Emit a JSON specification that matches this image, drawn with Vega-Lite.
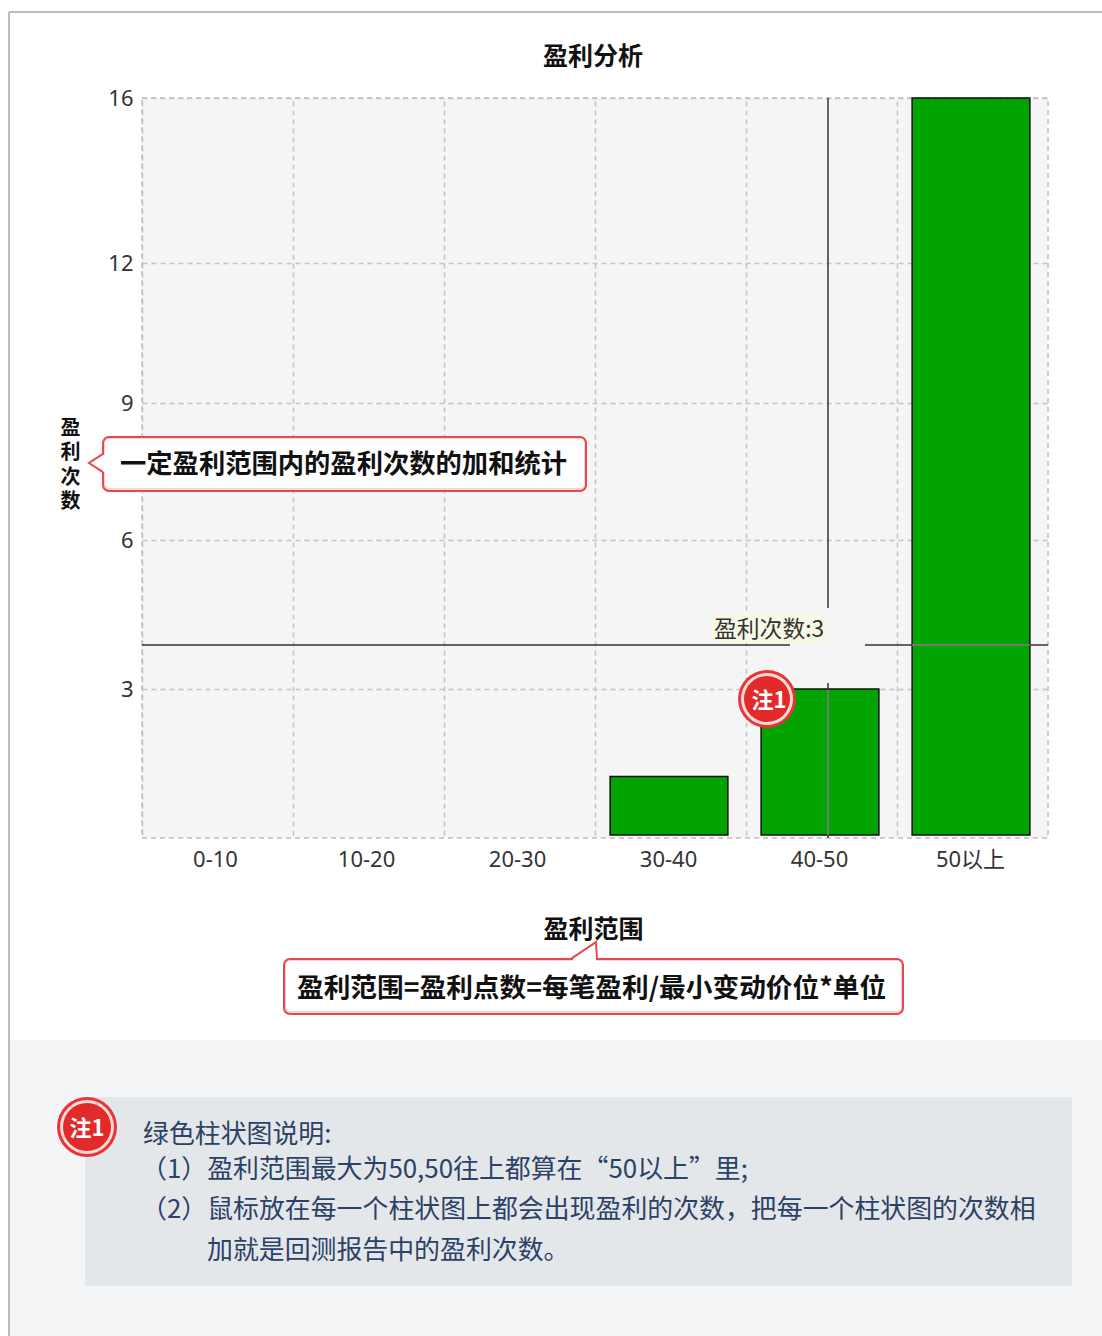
{
"$schema":"https://vega.github.io/schema/vega-lite/v6.json",
"width":906,"height":740,
"autosize":{"type":"none"},
"padding":{"left":142,"top":98,"right":54,"bottom":498},
"background":"#ffffff",
"view":{"fill":"#f5f5f5","stroke":"#bdbdbd","strokeDash":[5,4],"strokeWidth":1.5},
"config":{"font":"Noto Sans CJK SC"},
"title":{"text":"盈利分析","fontSize":25,"fontWeight":"bold","font":"Noto Sans CJK SC","color":"#111111","anchor":"middle","offset":-59,"dx":-2},
"resolve":{"scale":{"x":"independent","y":"independent"}},
"layer":[
{
"data":{"values":[{"range":"30-40","count":1.2},{"range":"40-50","count":3},{"range":"50以上","count":16}]},
"mark":{"type":"bar","width":{"band":0.78},"xOffset":-1.5,"fill":"#00a300","stroke":"#111111","strokeWidth":1.5},
"encoding":{
"x":{"field":"range","type":"nominal","sort":null,
"scale":{"domain":["0-10","10-20","20-30","30-40","40-50","50以上"],"paddingInner":0,"paddingOuter":0},
"axis":{"title":"盈利范围","titleFontSize":25,"titleFontWeight":"bold","titleFont":"Noto Sans CJK SC","titleColor":"#111111","titlePadding":47,"titleX":451,"labelAngle":0,"labelFont":"Noto Sans, Noto Sans CJK SC","labelFontSize":22,"labelColor":"#333333","labelPadding":11,"labelOffset":-2,"ticks":false,"domain":false,"grid":true,"bandPosition":0,"gridColor":"#c4c4c4","gridDash":[5,4],"gridWidth":1.5}},
"y":{"field":"count","type":"quantitative",
"scale":{"domain":[0,3,6,9,12,16],"range":[737,591,442,305,165,0],"nice":false,"zero":false},
"axis":{"title":["盈","利","次","数"],"titleFontSize":20,"titleFontWeight":"bold","titleFont":"Noto Sans CJK SC","titleColor":"#111111","titleAngle":0,"titleLineHeight":24.5,"titleX":-72,"titleY":320,"titleAlign":"center","titleBaseline":"top","values":[3,6,9,12,16],"labelFont":"Noto Sans, Noto Sans CJK SC","labelFontSize":22,"labelColor":"#333333","labelPadding":9,"ticks":false,"domain":false,"grid":true,"gridColor":"#c4c4c4","gridDash":[5,4],"gridWidth":1.5}}
}
},
{
"data":{"values":[{}]},
"layer":[
{"mark":{"type":"rect","fill":"#f3f5f7"},"encoding":{"x":{"datum":10,"type":"quantitative","scale":{"domain":[142,1048],"range":[0,906],"nice":false,"zero":false},"axis":null},"x2":{"datum":1102},"y":{"datum":1040,"type":"quantitative","scale":{"domain":[98,838],"range":[0,740],"nice":false,"zero":false},"axis":null},"y2":{"datum":1336}}},
{"mark":{"type":"rect","fill":"#e4e7ea"},"encoding":{"x":{"datum":85,"type":"quantitative","axis":null},"x2":{"datum":1072},"y":{"datum":1097,"type":"quantitative","axis":null},"y2":{"datum":1286}}},
{"mark":{"type":"rule","stroke":"#bcbcbc","strokeWidth":2},"encoding":{"x":{"datum":9,"type":"quantitative","axis":null},"y":{"datum":12,"type":"quantitative","axis":null},"y2":{"datum":1336}}},
{"mark":{"type":"rule","stroke":"#bcbcbc","strokeWidth":2},"encoding":{"x":{"datum":9,"type":"quantitative","axis":null},"x2":{"datum":1102},"y":{"datum":12,"type":"quantitative","axis":null}}},

{"mark":{"type":"rect","fill":"#f8f8e6"},"encoding":{"x":{"datum":712,"type":"quantitative","axis":null},"x2":{"datum":826},"y":{"datum":614,"type":"quantitative","axis":null},"y2":{"datum":643}}},
{"mark":{"type":"text","fontSize":22.8,"fill":"#333333","align":"left","baseline":"middle","font":"Noto Sans CJK SC"},"encoding":{"x":{"datum":714,"type":"quantitative","axis":null},"y":{"datum":630,"type":"quantitative","axis":null},"text":{"value":"盈利次数:3"}}},

{"mark":{"type":"rule","stroke":"#333333","strokeWidth":1.5},"encoding":{"x":{"datum":142,"type":"quantitative","axis":null},"x2":{"datum":790},"y":{"datum":645,"type":"quantitative","axis":null}}},
{"mark":{"type":"rule","stroke":"#333333","strokeWidth":1.5},"encoding":{"x":{"datum":865,"type":"quantitative","axis":null},"x2":{"datum":1048},"y":{"datum":645,"type":"quantitative","axis":null}}},
{"mark":{"type":"rule","stroke":"#8a8a8a","strokeWidth":1.5},"encoding":{"x":{"datum":912,"type":"quantitative","axis":null},"x2":{"datum":1030},"y":{"datum":645,"type":"quantitative","axis":null}}},
{"mark":{"type":"rule","stroke":"#333333","strokeWidth":1.5},"encoding":{"x":{"datum":828,"type":"quantitative","axis":null},"y":{"datum":98,"type":"quantitative","axis":null},"y2":{"datum":608}}},
{"mark":{"type":"rule","stroke":"#333333","strokeWidth":1.5},"encoding":{"x":{"datum":828,"type":"quantitative","axis":null},"y":{"datum":683,"type":"quantitative","axis":null},"y2":{"datum":838}}},
{"mark":{"type":"rule","stroke":"#8a8a8a","strokeWidth":1.5},"encoding":{"x":{"datum":828,"type":"quantitative","axis":null},"y":{"datum":690,"type":"quantitative","axis":null},"y2":{"datum":835}}},

{"mark":{"type":"rect","fill":"#fbd3d5","stroke":"#e5484f","strokeWidth":2,"cornerRadius":6},"encoding":{"x":{"datum":103,"type":"quantitative","axis":null},"x2":{"datum":586},"y":{"datum":437,"type":"quantitative","axis":null},"y2":{"datum":491}}},
{"mark":{"type":"rect","fill":"#ffffff","cornerRadius":4},"encoding":{"x":{"datum":105,"type":"quantitative","axis":null},"x2":{"datum":584},"y":{"datum":439,"type":"quantitative","axis":null},"y2":{"datum":488}}},
{"mark":{"type":"rule","stroke":"#ffffff","strokeWidth":5},"encoding":{"x":{"datum":103,"type":"quantitative","axis":null},"y":{"datum":455,"type":"quantitative","axis":null},"y2":{"datum":472}}},
{"mark":{"type":"point","shape":"M1,-1.3 L-1,0 L1,1.3","size":196,"filled":true,"fill":"#ffffff","stroke":"#e5484f","strokeWidth":2,"opacity":1},"encoding":{"x":{"datum":96,"type":"quantitative","axis":null},"y":{"datum":463,"type":"quantitative","axis":null}}},
{"mark":{"type":"text","fontSize":26.3,"fontWeight":"bold","fill":"#111111","align":"left","baseline":"middle","font":"Noto Sans CJK SC"},"encoding":{"x":{"datum":120,"type":"quantitative","axis":null},"y":{"datum":465,"type":"quantitative","axis":null},"text":{"value":"一定盈利范围内的盈利次数的加和统计"}}},

{"mark":{"type":"rect","fill":"#fbd3d5","stroke":"#e5484f","strokeWidth":2,"cornerRadius":6},"encoding":{"x":{"datum":284,"type":"quantitative","axis":null},"x2":{"datum":903},"y":{"datum":959,"type":"quantitative","axis":null},"y2":{"datum":1014}}},
{"mark":{"type":"rect","fill":"#ffffff","cornerRadius":4},"encoding":{"x":{"datum":286,"type":"quantitative","axis":null},"x2":{"datum":901},"y":{"datum":961,"type":"quantitative","axis":null},"y2":{"datum":1011}}},
{"mark":{"type":"rule","stroke":"#ffffff","strokeWidth":5},"encoding":{"x":{"datum":573,"type":"quantitative","axis":null},"x2":{"datum":596},"y":{"datum":959,"type":"quantitative","axis":null}}},
{"mark":{"type":"point","shape":"M-1,0.65 L0.92,-0.65 L1,0.65","size":676,"filled":true,"fill":"#ffffff","stroke":"#e5484f","strokeWidth":2,"opacity":1},"encoding":{"x":{"datum":584,"type":"quantitative","axis":null},"y":{"datum":950.5,"type":"quantitative","axis":null}}},
{"mark":{"type":"text","fontSize":26.7,"fontWeight":"bold","fill":"#111111","align":"left","baseline":"middle","font":"Noto Sans CJK SC"},"encoding":{"x":{"datum":297,"type":"quantitative","axis":null},"y":{"datum":989,"type":"quantitative","axis":null},"text":{"value":"盈利范围=盈利点数=每笔盈利/最小变动价位*单位"}}},

{"mark":{"type":"point","shape":"circle","size":3364,"filled":true,"fill":"#e8343a","opacity":1},"encoding":{"x":{"datum":767,"type":"quantitative","axis":null},"y":{"datum":699,"type":"quantitative","axis":null}}},
{"mark":{"type":"point","shape":"circle","size":2704,"filled":true,"fill":"#f8dcd4","opacity":1},"encoding":{"x":{"datum":767,"type":"quantitative","axis":null},"y":{"datum":699,"type":"quantitative","axis":null}}},
{"mark":{"type":"point","shape":"circle","size":2116,"filled":true,"fill":"#e32a2a","opacity":1},"encoding":{"x":{"datum":767,"type":"quantitative","axis":null},"y":{"datum":699,"type":"quantitative","axis":null}}},
{"mark":{"type":"text","fontSize":22,"fontWeight":"bold","fill":"#ffffff","align":"center","baseline":"middle","font":"Noto Sans CJK SC"},"encoding":{"x":{"datum":769,"type":"quantitative","axis":null},"y":{"datum":701,"type":"quantitative","axis":null},"text":{"value":"注1"}}},

{"mark":{"type":"point","shape":"circle","size":3600,"filled":true,"fill":"#e8343a","opacity":1},"encoding":{"x":{"datum":87,"type":"quantitative","axis":null},"y":{"datum":1127,"type":"quantitative","axis":null}}},
{"mark":{"type":"point","shape":"circle","size":2916,"filled":true,"fill":"#f8dcd4","opacity":1},"encoding":{"x":{"datum":87,"type":"quantitative","axis":null},"y":{"datum":1127,"type":"quantitative","axis":null}}},
{"mark":{"type":"point","shape":"circle","size":2304,"filled":true,"fill":"#e32a2a","opacity":1},"encoding":{"x":{"datum":87,"type":"quantitative","axis":null},"y":{"datum":1127,"type":"quantitative","axis":null}}},
{"mark":{"type":"text","fontSize":22,"fontWeight":"bold","fill":"#ffffff","align":"center","baseline":"middle","font":"Noto Sans CJK SC"},"encoding":{"x":{"datum":87,"type":"quantitative","axis":null},"y":{"datum":1129,"type":"quantitative","axis":null},"text":{"value":"注1"}}},

{"mark":{"type":"text","fontSize":25.9,"fill":"#2c4166","align":"left","baseline":"middle","font":"Noto Sans CJK SC"},"encoding":{"x":{"datum":143,"type":"quantitative","axis":null},"y":{"datum":1135,"type":"quantitative","axis":null},"text":{"value":"绿色柱状图说明:"}}},
{"mark":{"type":"text","fontSize":25.9,"fill":"#2c4166","align":"left","baseline":"middle","font":"Noto Sans CJK SC"},"encoding":{"x":{"datum":141,"type":"quantitative","axis":null},"y":{"datum":1170,"type":"quantitative","axis":null},"text":{"value":"（1）盈利范围最大为50,50往上都算在“50以上”里;"}}},
{"mark":{"type":"text","fontSize":25.9,"fill":"#2c4166","align":"left","baseline":"middle","font":"Noto Sans CJK SC"},"encoding":{"x":{"datum":141,"type":"quantitative","axis":null},"y":{"datum":1210,"type":"quantitative","axis":null},"text":{"value":"（2）鼠标放在每一个柱状图上都会出现盈利的次数，把每一个柱状图的次数相"}}},
{"mark":{"type":"text","fontSize":25.9,"fill":"#2c4166","align":"left","baseline":"middle","font":"Noto Sans CJK SC"},"encoding":{"x":{"datum":207,"type":"quantitative","axis":null},"y":{"datum":1251,"type":"quantitative","axis":null},"text":{"value":"加就是回测报告中的盈利次数。"}}}
]
}
]
}
